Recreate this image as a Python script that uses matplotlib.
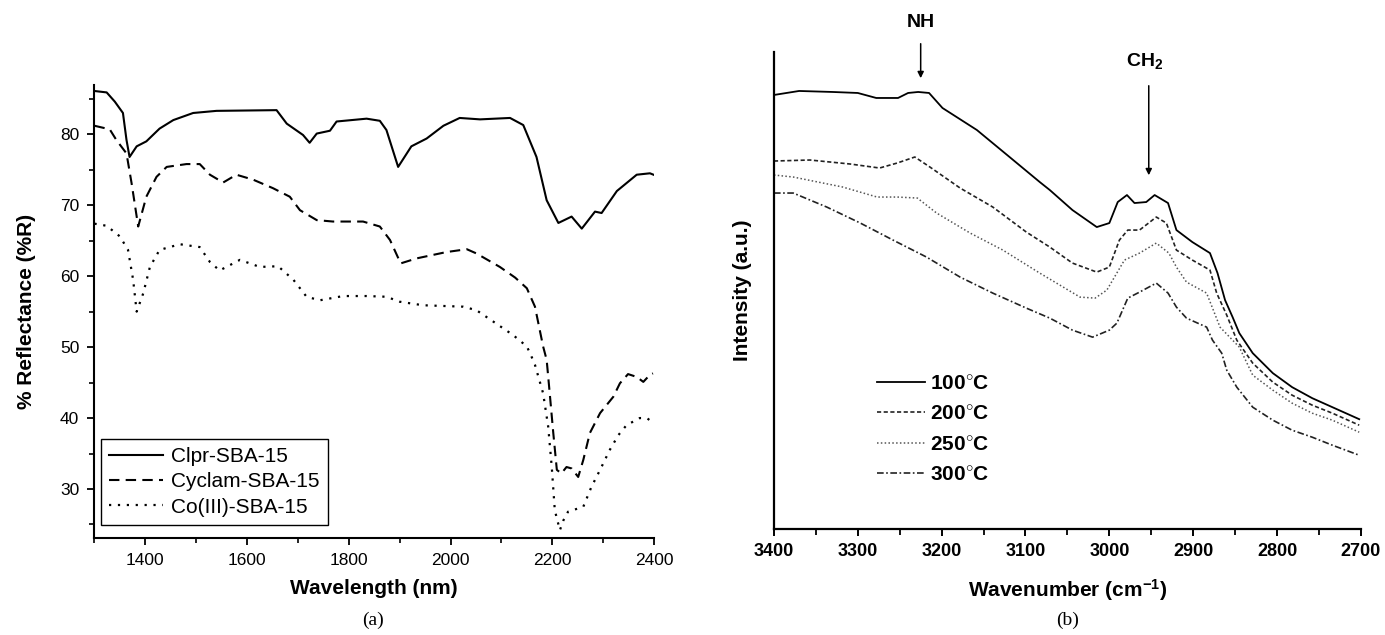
import numpy as np
import matplotlib
matplotlib.use("Agg")
import matplotlib.pyplot as plt
from matplotlib.ticker import MultipleLocator

plt.rcParams['font.family'] = ['Liberation Sans', 'DejaVu Sans']
plt.rcParams['mathtext.fontset'] = 'custom'
plt.rcParams['mathtext.rm'] = 'Liberation Sans'
plt.rcParams['mathtext.bf'] = 'Liberation Sans:bold'
plt.rcParams['mathtext.it'] = 'Liberation Sans:italic'

# ---- panel (a): diffuse reflectance spectra ----
clpr_wl = [1300, 1324, 1340, 1356, 1363, 1369, 1383, 1402, 1428, 1455, 1494, 1540,
           1658, 1678, 1710, 1723, 1737, 1763, 1776, 1835, 1861, 1874, 1897, 1923,
           1953, 1986, 2018, 2058, 2117, 2143, 2169, 2189, 2212, 2238, 2258, 2284,
           2297, 2327, 2366, 2392, 2399]
clpr_r = [86.1, 85.9, 84.6, 83.0, 79.2, 76.8, 78.3, 79.0, 80.8, 82.0, 83.0, 83.3,
          83.4, 81.5, 79.9, 78.8, 80.1, 80.5, 81.8, 82.2, 81.9, 80.6, 75.4, 78.3,
          79.4, 81.2, 82.3, 82.1, 82.3, 81.3, 76.8, 70.7, 67.5, 68.4, 66.7, 69.1,
          68.9, 72.0, 74.3, 74.5, 74.3]

cyclam_wl = [1300, 1330, 1343, 1363, 1373, 1386, 1402, 1422, 1442, 1481, 1507, 1527,
             1553, 1579, 1612, 1651, 1684, 1704, 1737, 1769, 1828, 1861, 1881, 1902,
             1933, 1992, 2032, 2051, 2097, 2127, 2150, 2166, 2182, 2189, 2195, 2202,
             2209, 2218, 2228, 2238, 2251, 2261, 2274, 2294, 2320, 2333, 2349, 2366,
             2379, 2392, 2398]
cyclam_r = [81.2, 80.7, 79.2, 77.3, 73.1, 67.0, 71.2, 74.0, 75.4, 75.8, 75.8, 74.3,
            73.2, 74.3, 73.6, 72.4, 71.2, 69.3, 67.9, 67.7, 67.7, 67.0, 65.1, 61.8,
            62.5, 63.4, 63.8, 63.2, 61.3, 59.8, 58.3, 55.7, 50.1, 48.2, 43.5, 37.9,
            32.7, 32.2, 33.1, 32.9, 31.7, 34.1, 37.9, 40.7, 43.0, 44.9, 46.2, 45.8,
            45.1, 46.1, 46.3]

co_wl = [1300, 1324, 1350, 1366, 1376, 1383, 1396, 1409, 1428, 1468, 1507, 1527,
         1546, 1586, 1625, 1661, 1691, 1717, 1743, 1789, 1835, 1874, 1900, 1946,
         2025, 2051, 2084, 2123, 2150, 2159, 2166, 2182, 2192, 2199, 2205, 2215,
         2222, 2231, 2261, 2277, 2294, 2313, 2330, 2346, 2372, 2386, 2399]
co_r = [67.4, 67.1, 65.6, 63.7, 59.5, 55.0, 57.6, 61.3, 63.7, 64.5, 64.1, 62.0,
        60.8, 62.3, 61.3, 61.4, 59.5, 57.1, 56.6, 57.2, 57.2, 57.1, 56.4, 55.9,
        55.7, 55.2, 53.6, 51.7, 50.1, 48.7, 47.5, 43.5, 38.8, 33.1, 27.0, 24.2,
        25.6, 26.8, 27.5, 30.3, 32.7, 35.5, 37.6, 39.0, 40.0, 40.0, 39.3]

# ---- panel (b): FTIR spectra at different temperatures ----
wn_100 = [3400, 3370, 3330, 3300, 3278, 3252, 3240, 3228, 3215, 3199, 3158, 3119,
          3083, 3071, 3044, 3015, 3000, 2990, 2979, 2970, 2956, 2946, 2930, 2920,
          2901, 2880, 2871, 2862, 2853, 2845, 2829, 2805, 2782, 2758, 2734, 2702]
i_100 = [4.34, 4.38, 4.37, 4.36, 4.31, 4.31, 4.36, 4.37, 4.36, 4.21, 3.99, 3.72,
         3.47, 3.39, 3.19, 3.02, 3.06, 3.27, 3.34, 3.26, 3.27, 3.34, 3.26, 2.99,
         2.87, 2.76, 2.56, 2.29, 2.12, 1.96, 1.76, 1.56, 1.42, 1.31, 1.22, 1.10]

wn_200 = [3400, 3357, 3309, 3274, 3253, 3232, 3214, 3178, 3139, 3099, 3071, 3044,
          3015, 3000, 2988, 2978, 2964, 2944, 2932, 2920, 2901, 2880, 2872, 2860,
          2848, 2829, 2805, 2782, 2758, 2734, 2702]
i_200 = [3.68, 3.69, 3.65, 3.61, 3.66, 3.72, 3.62, 3.41, 3.22, 2.97, 2.82, 2.66,
         2.57, 2.62, 2.89, 2.99, 2.99, 3.12, 3.06, 2.79, 2.69, 2.59, 2.36, 2.14,
         1.89, 1.66, 1.47, 1.34, 1.24, 1.16, 1.04]

wn_250 = [3400, 3377, 3318, 3277, 3253, 3229, 3206, 3166, 3127, 3083, 3035, 3017,
          3003, 2982, 2964, 2944, 2929, 2920, 2908, 2884, 2868, 2845, 2829, 2805,
          2782, 2758, 2734, 2702]
i_250 = [3.54, 3.52, 3.42, 3.32, 3.32, 3.31, 3.16, 2.96, 2.79, 2.56, 2.32, 2.31,
         2.39, 2.69, 2.76, 2.86, 2.76, 2.62, 2.47, 2.36, 2.02, 1.82, 1.54, 1.39,
         1.26, 1.16, 1.09, 0.97]

wn_300 = [3400, 3377, 3337, 3297, 3258, 3218, 3178, 3139, 3099, 3071, 3044, 3020,
          3000, 2991, 2978, 2964, 2944, 2930, 2920, 2908, 2884, 2877, 2866, 2860,
          2848, 2829, 2805, 2782, 2758, 2734, 2702]
i_300 = [3.36, 3.36, 3.22, 3.06, 2.89, 2.72, 2.52, 2.36, 2.21, 2.11, 1.99, 1.92,
         1.99, 2.06, 2.31, 2.37, 2.46, 2.36, 2.22, 2.11, 2.02, 1.89, 1.76, 1.59,
         1.42, 1.22, 1.09, 0.99, 0.92, 0.84, 0.74]

fig = plt.figure(figsize=(13.85, 6.35), dpi=100)

# ---------------- (a) ----------------
ax1 = fig.add_axes([0.0682, 0.1528, 0.404, 0.7134])
ax1.plot(clpr_wl, clpr_r, color='black', lw=1.5, label='Clpr-SBA-15')
ax1.plot(cyclam_wl, cyclam_r, color='black', lw=1.5, ls=(0, (5, 3)), label='Cyclam-SBA-15')
ax1.plot(co_wl, co_r, color='black', lw=1.6, ls=(0, (1, 3)), label='Co(III)-SBA-15')
ax1.set_xlim(1300, 2400)
ax1.set_ylim(23.1, 86.95)
ax1.xaxis.set_major_locator(MultipleLocator(200))
ax1.xaxis.set_minor_locator(MultipleLocator(100))
ax1.yaxis.set_major_locator(MultipleLocator(10))
ax1.yaxis.set_minor_locator(MultipleLocator(5))
for s in ['top', 'right']:
    ax1.spines[s].set_visible(False)
for s in ['left', 'bottom']:
    ax1.spines[s].set_linewidth(1.5)
ax1.tick_params(which='major', length=5, width=1.3, labelsize=12.5, pad=6)
ax1.tick_params(which='minor', length=3.5, width=1.2)
ax1.set_xlabel('Wavelength (nm)', fontsize=15, fontweight='bold', labelpad=8)
ax1.set_ylabel('% Reflectance (%R)', fontsize=15, fontweight='bold', labelpad=17)
leg1 = ax1.legend(loc='lower left', bbox_to_anchor=(0.0116, 0.0287), borderaxespad=0,
                  fontsize=15, fancybox=False, edgecolor='black', framealpha=1,
                  handlelength=2.6, handletextpad=0.35, labelspacing=0.3, borderpad=0.4)
leg1.get_frame().set_linewidth(1.0)
fig.text(0.2695, 0.016, '(a)', fontsize=14, family='Liberation Serif', ha='center')

# ---------------- (b) ----------------
ax2 = fig.add_axes([0.5588, 0.1665, 0.4238, 0.7517])
ax2.plot(wn_100, i_100, color='black', lw=1.3, label='100$^{\\circ}$C')
ax2.plot(wn_200, i_200, color='#222222', lw=1.2, ls=(0, (2.5, 1.5)), label='200$^{\\circ}$C')
ax2.plot(wn_250, i_250, color='#555555', lw=1.1, ls=(0, (1, 1.5)), label='250$^{\\circ}$C')
ax2.plot(wn_300, i_300, color='#222222', lw=1.2, ls=(0, (4, 1.5, 1, 1.5)), label='300$^{\\circ}$C')
ax2.set_xlim(3400, 2700)
ax2.set_ylim(0, 4.77)
ax2.set_yticks([])
ax2.xaxis.set_major_locator(MultipleLocator(100))
ax2.xaxis.set_minor_locator(MultipleLocator(50))
for s in ['top', 'right']:
    ax2.spines[s].set_visible(False)
for s in ['left', 'bottom']:
    ax2.spines[s].set_linewidth(1.6)
ax2.tick_params(which='major', length=5, width=1.4, labelsize=13, pad=5)
ax2.tick_params(which='minor', length=4, width=1.3)
for lab in ax2.get_xticklabels():
    lab.set_fontweight('bold')
ax2.set_xlabel('Wavenumber (cm$^{\\mathbf{-1}}$)', fontsize=15, fontweight='bold', labelpad=12)
ax2.set_ylabel('Intensity (a.u.)', fontsize=15, fontweight='bold', labelpad=16)
leg2 = ax2.legend(loc='upper left', bbox_to_anchor=(0.175, 0.325), borderaxespad=0,
                  borderpad=0, frameon=False, handlelength=2.3, handletextpad=0.25,
                  labelspacing=0.55, prop={'size': 15, 'weight': 'bold'})

ax2.annotate('', xy=(3225, 4.48), xytext=(3225, 4.88), annotation_clip=False,
             arrowprops=dict(arrowstyle='-|>', color='black', lw=1.1, mutation_scale=9))
ax2.text(3225, 5.06, 'NH', fontsize=14, fontweight='bold', ha='center', va='center')
ax2.annotate('', xy=(2953, 3.51), xytext=(2953, 4.46), annotation_clip=False,
             arrowprops=dict(arrowstyle='-|>', color='black', lw=1.1, mutation_scale=9))
ax2.text(2958, 4.68, 'CH$_{\\mathbf{2}}$', fontsize=14, fontweight='bold', ha='center', va='center')
fig.text(0.7705, 0.016, '(b)', fontsize=14, family='Liberation Serif', ha='center')

fig.savefig('out.png', dpi=100)
